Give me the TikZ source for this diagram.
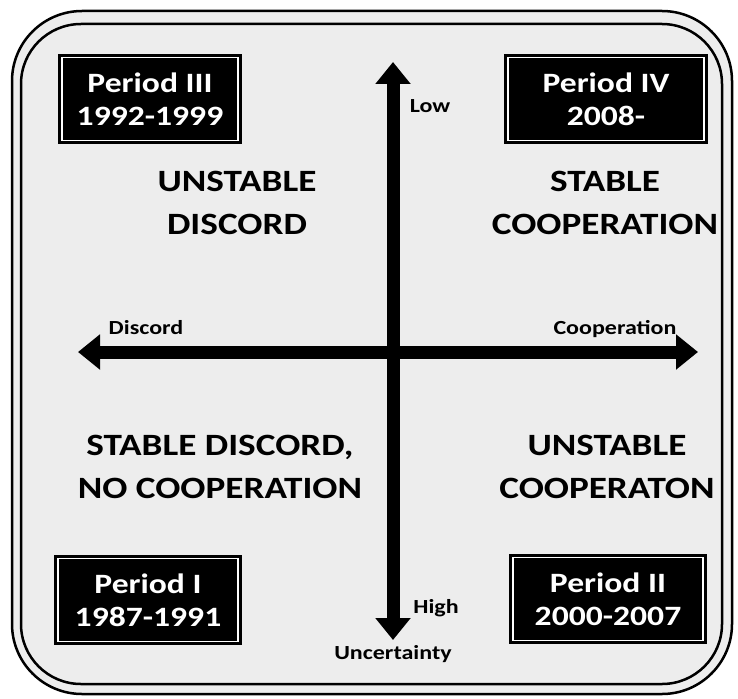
\documentclass[tikz,border=0pt]{standalone}
\usepackage{fontspec}
\setmainfont{Carlito}
\newfontfamily\widefont[FakeStretch=1.2]{Carlito}
\usetikzlibrary{arrows.meta, positioning}

\begin{document}
\begin{tikzpicture}[
  x=1pt, y=-1pt,
  quad/.style={font=\widefont\bfseries\fontsize{31}{43}\selectfont,
               align=center, inner sep=0pt},
  axlabel/.style={font=\widefont\bfseries\fontsize{20}{22}\selectfont,
                  inner sep=1pt},
  period/.style={rectangle, draw=black, line width=3pt, double=white,
                 double distance=1.2pt, fill=black, text=white,
                 font=\widefont\bfseries\fontsize{28}{33}\selectfont,
                 align=center, inner sep=2pt},
  axis/.style={line width=13pt,
               {Triangle[length=22pt,width=34pt]}-{Triangle[length=22pt,width=34pt]}}
]
\useasboundingbox (0,0) rectangle (738,698);

% frame
\draw[line width=2.5pt, rounded corners=70pt, fill=gray!14] (12,11) rectangle (732,694);
\draw[line width=2.5pt, rounded corners=60pt] (21,24) rectangle (722,684);

% axes
\coordinate (up)   at (393,62);
\coordinate (down) at (393,640);
\coordinate (west) at (78,352);
\coordinate (east) at (698,352);
\draw[axis] (down) -- (up);
\draw[axis] (west) -- (east);

% axis labels
\node[axlabel] (low)  at (430,106) {Low};
\node[axlabel] (high) at (436,608) {High};
\node[axlabel, below=4pt of down] (unc) {Uncertainty};
\node[axlabel] (disc) at (146,328) {Discord};
\node[axlabel] (coop) at (615,329) {Cooperation};

% quadrants
\node[quad] (q2) at (237,203) {UNSTABLE\\DISCORD};
\node[quad] (q1) at (605,203) {STABLE\\COOPERATION};
\node[quad] (q3) at (220,467) {STABLE DISCORD,\\NO COOPERATION};
\node[quad] (q4) at (607,467) {UNSTABLE\\COOPERATON};

% periods
\node[period, minimum width=176pt, minimum height=83pt] (p3) at (150,99)  {Period III\\1992-1999};
\node[period, minimum width=196pt, minimum height=83pt] (p4) at (606,99)  {Period IV\\2008-};
\node[period, minimum width=180pt, minimum height=83pt] (p1) at (148,600) {Period I\\1987-1991};
\node[period, minimum width=190pt, minimum height=83pt] (p2) at (608,599) {Period II\\2000-2007};

\end{tikzpicture}
\end{document}
